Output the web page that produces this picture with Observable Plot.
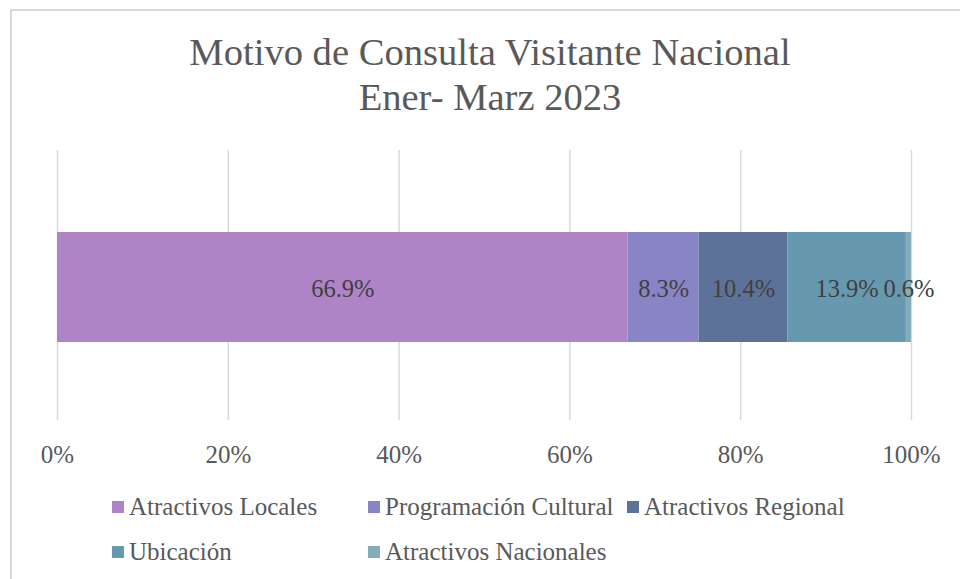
<!DOCTYPE html>
<html>
<head>
<meta charset="utf-8">
<script src="https://cdn.jsdelivr.net/npm/d3@7"></script>
<script src="https://cdn.jsdelivr.net/npm/@observablehq/plot@0.6"></script>
<style>
  html, body { margin: 0; padding: 0; background: #fff; }
  #wrap { position: relative; width: 960px; height: 579px; overflow: hidden; font-family: "Liberation Serif", serif; }
  #frame { position: absolute; left: 10px; top: 9px; width: 980px; height: 600px; border-left: 2px solid #d9d9d9; border-top: 2px solid #d9d9d9; }
  #title { position: absolute; left: 20px; width: 940px; top: 30px; text-align: center; color: #595959; font-size: 38.6px; line-height: 45px; }
  #chart { position: absolute; left: 0; top: 140px; }
  .leg { position: absolute; display: flex; align-items: center; color: #595959; font-size: 25px; white-space: nowrap; }
  .leg span.sw { display: inline-block; width: 12px; height: 12px; margin-right: 5px; }
</style>
</head>
<body>
<div id="wrap">
  <div id="frame"></div>
  <div id="title">Motivo de Consulta Visitante Nacional<br>Ener- Marz 2023</div>
  <div id="chart"></div>
  <div id="legend"></div>
</div>
<script>
const categories = ["Atractivos Locales", "Programación Cultural", "Atractivos Regional", "Ubicación", "Atractivos Nacionales"];
const values = [66.9, 8.3, 10.4, 13.9, 0.6];
const colors = ["#AE84C6", "#8884C6", "#5D7298", "#6699B0", "#84ADB8"];
const xTicks = [0, 0.2, 0.4, 0.6, 0.8, 1];
const xTickLabels = ["0%", "20%", "40%", "60%", "80%", "100%"];

const data = categories.map((c, i) => ({category: c, value: values[i], row: "r"}));

const plot = Plot.plot({
  width: 960,
  height: 340,
  marginLeft: 57,
  marginRight: 49,
  marginTop: 10,
  marginBottom: 60,
  style: {fontFamily: "Liberation Serif, serif", fontSize: "25px", color: "#595959", background: "transparent"},
  x: {domain: [0, 1], ticks: xTicks, tickFormat: (d) => xTickLabels[xTicks.indexOf(d)], tickSize: 0, tickPadding: 25, label: null},
  y: {axis: null, domain: ["r"], range: [92, 202], padding: 0},
  color: {domain: categories, range: colors},
  marks: [
    Plot.ruleX(xTicks, {stroke: "#d9d9d9", strokeWidth: 1.5}),
    Plot.barX(data, Plot.stackX({offset: "normalize", x: "value", y: "row", fill: "category"})),
    Plot.text(data, Plot.stackX({offset: "normalize", x: "value", y: "row", text: (d) => d.value.toFixed(1) + "%", fill: "#404040", fontSize: 24.5, dy: 2}))
  ]
});
document.getElementById("chart").appendChild(plot);

const legendPos = [[112, 507], [368, 507], [627, 507], [112, 552], [368, 552]];
const legend = document.getElementById("legend");
categories.forEach((c, i) => {
  const el = document.createElement("div");
  el.className = "leg";
  el.style.left = legendPos[i][0] + "px";
  el.style.top = (legendPos[i][1] - 15) + "px";
  el.style.height = "30px";
  el.innerHTML = `<span class="sw" style="background:${colors[i]}"></span>${c}`;
  legend.appendChild(el);
});
</script>
</body>
</html>
